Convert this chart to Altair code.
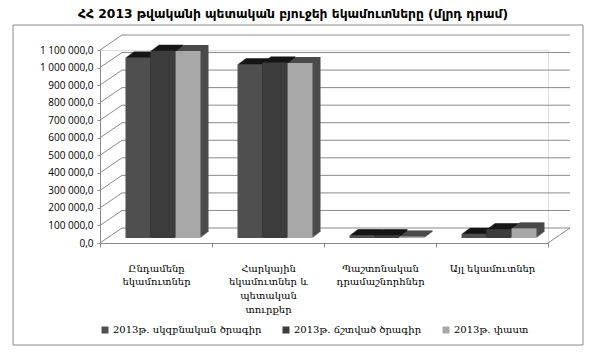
import json
import altair as alt
import pandas as pd

# ---------------- data ----------------
categories = [
    "Ընդամենը եկամուտներ",
    "Հարկային եկամուտներ և պետական տուրքեր",
    "Պաշտոնական դրամաշնորհներ",
    "Այլ եկամուտներ",
]
category_lines = [
    ["Ընդամենը", "եկամուտներ"],
    ["Հարկային", "եկամուտներ և", "պետական", "տուրքեր"],
    ["Պաշտոնական", "դրամաշնորհներ"],
    ["Այլ եկամուտներ"],
]
series = ["2013թ. սկզբնական ծրագիր", "2013թ. ճշտված ծրագիր", "2013թ. փաստ"]
initial_plan = [1029000, 990000, 16000, 24000]
revised_plan = [1067000, 1000000, 16000, 50000]
actual = [1066000, 997000, 9000, 55000]
y_ticks = [0, 100000, 200000, 300000, 400000, 500000, 600000,
           700000, 800000, 900000, 1000000, 1100000]
title_text = "ՀՀ 2013 թվականի պետական բյուջեի եկամուտները (մլրդ դրամ)"

rows = []
for s, vals in zip(series, [initial_plan, revised_plan, actual]):
    for c, v in zip(categories, vals):
        rows.append({"category": c, "series": s, "value": v})
df = pd.DataFrame(rows)
ticks_df = pd.DataFrame({"v": y_ticks})

# ---------------- styling ----------------
W, H = 448, 193
STEP = W / len(categories)
DX, DY = 22, 15          # depth of back wall
BX, BY = 7, 5            # depth position of bars
front_colors = ["#4f4f4f", "#3c3c3c", "#a8a8a8"]
shadow_colors = ["#161616", "#161616", "#4a4a4a"]
grid_color = "#8a8a8a"

ymax = y_ticks[-1]
y_scale = alt.Scale(domain=[0, ymax], nice=False, zero=True)

y_axis = alt.Axis(
    title=None, values=y_ticks, grid=False,
    labelExpr="replace(join(split(format(datum.value, ',.1f'), ','), ' '), '.', ',')",
    labelFont="Open Sans", labelFontSize=10, labelColor="#000",
    tickSize=3, tickColor=grid_color, domainColor=grid_color,
    labelPadding=4, labelOverlap=False, labelBound=False, labelFlush=False,
)


def y_enc(field):
    return alt.Y(field, scale=y_scale, axis=y_axis)


label_expr = ""
for c, lines in zip(categories, category_lines):
    label_expr += f"datum.value == {json.dumps(c, ensure_ascii=False)} ? {json.dumps(lines, ensure_ascii=False)} : "
label_expr += "datum.value"

base = alt.Chart(df)

x_enc = alt.X(
    "category:N", sort=categories,
    scale=alt.Scale(paddingInner=0, paddingOuter=0),
    axis=alt.Axis(
        title=None, labelAngle=0, labelExpr=label_expr,
        labelFont="DejaVu Serif", labelFontSize=10, labelLineHeight=13.7,
        labelColor="#000", labelBaseline="top", labelPadding=16,
        tickBand="extent", tickSize=4, tickColor=grid_color,
        domainColor=grid_color, labelLimit=0,
    ),
)


def xoff_enc(shift):
    return alt.XOffset("series:N", sort=series,
                       scale=alt.Scale(paddingInner=0, paddingOuter=0.74,
                                       range=[shift, STEP + shift]))


frame = alt.Chart(pd.DataFrame({"a": [0]})).mark_rect(
    fill=None, stroke="#8c8c8c", strokeWidth=1
).encode(
    x=alt.value(-87), x2=alt.value(483), y=alt.value(-25), y2=alt.value(295)
)

back_grid = alt.Chart(ticks_df).mark_rule(
    color=grid_color, strokeWidth=1, yOffset=-DY
).encode(
    y=y_enc("v:Q"),
    x=alt.value(DX), x2=alt.value(W + DX),
)

diagonals = alt.Chart(ticks_df).mark_rule(
    color=grid_color, strokeWidth=1, y2Offset=-DY
).encode(
    y=y_enc("v:Q"), y2="v:Q",
    x=alt.value(0), x2=alt.value(DX),
)

floor_edge = alt.Chart(ticks_df[ticks_df.v == 0]).mark_rule(
    color=grid_color, strokeWidth=1, y2Offset=-DY
).encode(
    y=y_enc("v:Q"), y2="v:Q",
    x=alt.value(W), x2=alt.value(W + DX),
)

layers = [frame, back_grid, diagonals, floor_edge]

steps = 8
for k in range(steps, 0, -1):
    oy = -BY - 0.75 * k
    layers.append(
        base.mark_bar(yOffset=oy, y2Offset=oy).encode(
            x=x_enc, xOffset=xoff_enc(BX + k),
            y=y_enc("value:Q"),
            color=alt.Color("series:N", sort=series,
                            scale=alt.Scale(domain=series, range=shadow_colors),
                            legend=None),
        )
    )

front = base.mark_bar(yOffset=-BY, y2Offset=-BY).encode(
    x=x_enc, xOffset=xoff_enc(BX),
    y=y_enc("value:Q"),
    color=alt.Color(
        "series:N", sort=series,
        scale=alt.Scale(domain=series, range=front_colors),
        legend=alt.Legend(
            title=None, orient="none", legendX=0, legendY=275,
            direction="horizontal", symbolType="square", symbolSize=49,
            symbolStrokeWidth=0, labelFont="DejaVu Serif", labelFontSize=10,
            labelColor="#000", labelOffset=3, columnPadding=19, padding=0,
            labelLimit=0,
        ),
    ),
)
layers.append(front)

chart = alt.layer(*layers).resolve_scale(
    color="independent", xOffset="independent"
).properties(
    width=W, height=H,
    autosize=alt.AutoSizeParams(type="none"),
    padding={"left": 100, "top": 50, "right": 42, "bottom": 114},
    title=alt.TitleParams(
        title_text, font="DejaVu Sans", fontSize=12.3, fontWeight="bold",
        anchor="middle", offset=4, dx=-31, color="#000",
    ),
).configure_view(stroke=None).configure(background="white")

chart.save("out.html", embed_options={"renderer": "svg", "actions": False})
